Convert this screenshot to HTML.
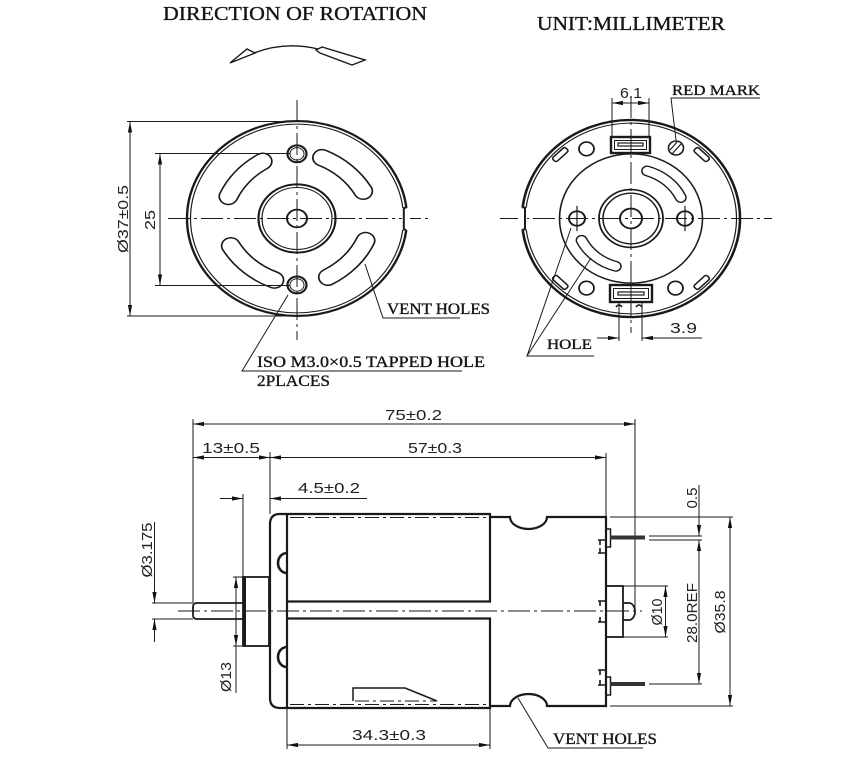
<!DOCTYPE html>
<html><head><meta charset="utf-8"><style>
html,body{margin:0;padding:0;background:#fff;}
svg{display:block;}
.s{font-family:"Liberation Serif",serif;fill:#151515;stroke:#151515;stroke-width:0.35;}
.d{font-family:"Liberation Sans",sans-serif;fill:#222;font-size:15px;}
.k{stroke:#1a1a1a;fill:none;}
</style></head><body>
<svg width="862" height="759" viewBox="0 0 862 759" xmlns="http://www.w3.org/2000/svg">
<defs>
<marker id="a" viewBox="0 0 11 6" refX="11" refY="3" markerWidth="11" markerHeight="6" markerUnits="userSpaceOnUse" orient="auto-start-reverse"><path d="M0,0.9 L11,3 L0,5.1z" fill="#111"/></marker>
</defs>
<rect width="862" height="759" fill="#fff"/>

<!-- Titles -->
<text class="s" x="163" y="20" font-size="20" textLength="264" lengthAdjust="spacingAndGlyphs">DIRECTION OF ROTATION</text>
<text class="s" x="537" y="30" font-size="20" textLength="188" lengthAdjust="spacingAndGlyphs">UNIT:MILLIMETER</text>

<!-- rotation arrow -->
<g class="k" stroke-width="1.4">
<path d="M230,63 L247,49 L255,53 Z"/>
<path d="M254,53 Q285,41 318,49"/>
<path d="M316,50 L322,47 L365,60 L352,65 L320,53 Z"/>
</g>

<!-- ============ LEFT VIEW ============ -->
<g class="k" stroke-width="1" stroke-dasharray="22 4 3 4">
<line x1="168" y1="218.5" x2="432" y2="218.5"/>
<line x1="297" y1="100" x2="297" y2="340"/>
</g>
<g transform="translate(297,218.5) scale(1,0.886)" class="k">
<circle r="110" stroke-width="2.4"/>
<circle r="106.5" stroke-width="1.2"/>
<rect x="105" y="-12" width="8" height="25" fill="#fff" stroke="none"/>
<path d="M109.3,-12 H106.8 V12.5 H109.3" stroke-width="2"/>
<circle cy="-73" r="9.5" stroke-width="2.2"/>
<circle cy="-73" r="7" stroke-width="1"/>
<circle cy="75" r="9.5" stroke-width="2.2"/>
<circle cy="75" r="7" stroke-width="1"/>
<circle r="38.5" stroke-width="2.2"/>
<circle r="35" stroke-width="1.2"/>
<circle r="10" stroke-width="2"/>
<g stroke-linecap="round">
<path d="M68.6,25 A90,90 0 0 1 30.9,66.2 M-22.6,69.4 A90,90 0 0 1 -66.2,30.9 M-68.6,-25 A90,90 0 0 1 -34.3,-64.5 M25,-68.6 A90,90 0 0 1 66.2,-30.9" stroke-width="20"/>
<path d="M68.6,25 A90,90 0 0 1 30.9,66.2 M-22.6,69.4 A90,90 0 0 1 -66.2,30.9 M-68.6,-25 A90,90 0 0 1 -34.3,-64.5 M25,-68.6 A90,90 0 0 1 66.2,-30.9" stroke="#fff" stroke-width="16.6"/>
</g>
</g>
<g class="k" stroke-width="1">
<line x1="127" y1="121.5" x2="300" y2="121.5"/>
<line x1="127" y1="316" x2="300" y2="316"/>
<line x1="130" y1="121.5" x2="130" y2="316" marker-start="url(#a)" marker-end="url(#a)"/>
<line x1="155" y1="153.5" x2="290" y2="153.5"/>
<line x1="155" y1="285.5" x2="290" y2="285.5"/>
<line x1="160" y1="153.5" x2="160" y2="285.5" marker-start="url(#a)" marker-end="url(#a)"/>
<polyline points="460,318 383,318 365,264"/>
<polyline points="462,371 242,371 288,295"/>
</g>
<text class="d" transform="translate(128,219) rotate(-90)" text-anchor="middle" textLength="68" lengthAdjust="spacingAndGlyphs">Ø37±0.5</text>
<text class="d" transform="translate(155,220) rotate(-90)" text-anchor="middle" textLength="20" lengthAdjust="spacingAndGlyphs">25</text>
<text class="s" x="387" y="314" font-size="16" textLength="103" lengthAdjust="spacingAndGlyphs">VENT HOLES</text>
<text class="s" x="257" y="367" font-size="16" textLength="228" lengthAdjust="spacingAndGlyphs">ISO M3.0×0.5 TAPPED HOLE</text>
<text class="s" x="257" y="386" font-size="16" textLength="73" lengthAdjust="spacingAndGlyphs">2PLACES</text>

<!-- ============ RIGHT VIEW ============ -->
<g class="k" stroke-width="1" stroke-dasharray="22 4 3 4">
<line x1="500" y1="218.5" x2="772" y2="218.5"/>
<line x1="631" y1="96" x2="631" y2="333"/>
</g>
<g transform="translate(631,218.5) scale(1,0.904)" class="k">
<circle r="109" stroke-width="2.6"/>
<circle r="105.5" stroke-width="1.2"/>
<rect x="-113" y="-12" width="9" height="24" fill="#fff" stroke="none"/>
<path d="M-108.5,-12 H-106 V12 H-108.5" stroke-width="2"/>
<g stroke-width="1.6">
<g transform="rotate(225) translate(100,0)"><rect x="-3" y="-9" width="6" height="18" rx="2" fill="#fff"/></g>
<g transform="rotate(135) translate(100,0)"><rect x="-3" y="-9" width="6" height="18" rx="2" fill="#fff"/></g>
<g transform="rotate(315) translate(100,0)"><rect x="-3" y="-9" width="6" height="18" rx="2" fill="#fff"/></g>
<g transform="rotate(45) translate(100,0)"><rect x="-3" y="-9" width="6" height="18" rx="2" fill="#fff"/></g>
</g>
<circle r="71.5" stroke-width="1.6"/>
<circle r="32" stroke-width="1.8"/>
<circle r="28" stroke-width="1.5"/>
<circle r="11" stroke-width="2"/>
<circle cx="-54" r="8" stroke-width="2"/>
<circle cx="54" r="8" stroke-width="2"/>
<line x1="-54" y1="-14" x2="-54" y2="14" stroke-width="1.2"/>
<line x1="54" y1="-14" x2="54" y2="14" stroke-width="1.2"/>
<circle cx="-44.5" cy="-77" r="7.5" stroke-width="1.8"/>
<circle cx="-44.5" cy="77" r="7.5" stroke-width="1.8"/>
<circle cx="44.5" cy="77" r="7.5" stroke-width="1.8"/>
<g stroke-linecap="round">
<path d="M16.1,-52.6 A55,55 0 0 1 49.8,-23.2 M-15.2,52.9 A55,55 0 0 1 -49.4,24.1" stroke-width="12"/>
<path d="M16.1,-52.6 A55,55 0 0 1 49.8,-23.2 M-15.2,52.9 A55,55 0 0 1 -49.4,24.1" stroke="#fff" stroke-width="9"/>
</g>
</g>
<!-- red mark -->
<g class="k" stroke-width="1.6">
<ellipse cx="676" cy="148" rx="7.5" ry="7"/>
<line x1="670" y1="150" x2="677" y2="142" stroke-width="1.2"/>
<line x1="672" y1="154" x2="681" y2="144" stroke-width="1.2"/>
</g>
<!-- terminals -->
<g class="k">
<rect x="611" y="137" width="39" height="16" stroke-width="2.4" fill="#fff"/>
<rect x="614.5" y="140.5" width="32" height="9" stroke-width="1"/>
<rect x="618" y="143" width="25" height="3" stroke-width="1.2"/>
<rect x="610" y="285" width="42" height="17" stroke-width="2.4" fill="#fff"/>
<rect x="613.5" y="288.5" width="35" height="10" stroke-width="1"/>
<rect x="618" y="292" width="26" height="3" stroke-width="1.2"/>
<path d="M616,307 Q619,303 622,307 M636,307 Q639,303 642,307" stroke-width="1.6"/>
<line x1="631" y1="137" x2="631" y2="153" stroke-width="1"/>
<line x1="631" y1="285" x2="631" y2="302" stroke-width="1"/>
</g>
<g class="k" stroke-width="1">
<line x1="612" y1="98" x2="612" y2="137"/>
<line x1="649" y1="98" x2="649" y2="137"/>
<line x1="612" y1="103" x2="649" y2="103" marker-start="url(#a)" marker-end="url(#a)"/>
<line x1="619" y1="303" x2="619" y2="341"/>
<line x1="642" y1="303" x2="642" y2="341"/>
<line x1="597" y1="338" x2="619" y2="338" marker-end="url(#a)"/>
<line x1="702" y1="338" x2="642" y2="338" marker-end="url(#a)"/>
<polyline points="760,98 671,98 676,140"/>
<polyline points="594,356 527,356 571,228"/>
<line x1="527" y1="356" x2="591" y2="258"/>
</g>
<text class="d" x="620" y="98" textLength="22" lengthAdjust="spacingAndGlyphs">6.1</text>
<text class="d" x="670" y="333" textLength="27" lengthAdjust="spacingAndGlyphs">3.9</text>
<text class="s" x="672" y="95" font-size="15" textLength="88" lengthAdjust="spacingAndGlyphs">RED MARK</text>
<text class="s" x="547" y="349" font-size="15" textLength="45" lengthAdjust="spacingAndGlyphs">HOLE</text>

<!-- ============ SIDE VIEW ============ -->
<g class="k" stroke-width="1" stroke-dasharray="22 4 3 4">
<line x1="178" y1="611" x2="642" y2="611"/>
</g>
<g class="k" stroke-width="1">
<line x1="193" y1="419" x2="193" y2="603"/>
<line x1="635" y1="419" x2="635" y2="611"/>
<line x1="270" y1="452" x2="270" y2="514"/>
<line x1="606" y1="453" x2="606" y2="517"/>
<line x1="243" y1="494" x2="243" y2="577"/>
<line x1="287" y1="708" x2="287" y2="749"/>
<line x1="490" y1="708" x2="490" y2="749"/>
<line x1="152" y1="603" x2="193" y2="603"/>
<line x1="152" y1="619" x2="193" y2="619"/>
<line x1="233" y1="577" x2="243" y2="577"/>
<line x1="233" y1="646" x2="243" y2="646"/>
<line x1="623" y1="586" x2="668" y2="586"/>
<line x1="623" y1="637" x2="668" y2="637"/>
<line x1="649" y1="536" x2="702" y2="536"/>
<line x1="649" y1="540" x2="702" y2="540"/>
<line x1="649" y1="684" x2="702" y2="684"/>
<line x1="610" y1="517" x2="733" y2="517"/>
<line x1="610" y1="706" x2="733" y2="706"/>
<line x1="193" y1="424" x2="635" y2="424" marker-start="url(#a)" marker-end="url(#a)"/>
<line x1="193" y1="457.5" x2="270" y2="457.5" marker-start="url(#a)" marker-end="url(#a)"/>
<line x1="270" y1="457.5" x2="606" y2="457.5" marker-start="url(#a)" marker-end="url(#a)"/>
<line x1="220" y1="498.5" x2="243" y2="498.5" marker-end="url(#a)"/>
<line x1="367" y1="498.5" x2="270" y2="498.5" marker-end="url(#a)"/>
<line x1="287" y1="745" x2="490" y2="745" marker-start="url(#a)" marker-end="url(#a)"/>
<line x1="154.5" y1="522" x2="154.5" y2="603" marker-end="url(#a)"/>
<line x1="154.5" y1="642" x2="154.5" y2="619" marker-end="url(#a)"/>
<line x1="236" y1="577" x2="236" y2="646" marker-start="url(#a)" marker-end="url(#a)"/>
<line x1="236" y1="646" x2="236" y2="693"/>
<line x1="665.5" y1="586" x2="665.5" y2="637" marker-start="url(#a)" marker-end="url(#a)"/>
<line x1="699" y1="540" x2="699" y2="684" marker-start="url(#a)" marker-end="url(#a)"/>
<line x1="699" y1="485" x2="699" y2="536" marker-end="url(#a)"/>
<line x1="730" y1="517" x2="730" y2="706" marker-start="url(#a)" marker-end="url(#a)"/>
<polyline points="643,748 548,748 518,698"/>
</g>
<g class="k" stroke-width="2.2">
<path d="M287,514 H280 Q270,514 270,524 V698 Q270,708 280,708 H287"/>
<line x1="287" y1="513" x2="287" y2="709"/>
<path d="M287,514 H490 V601.5 H287"/>
<path d="M287,618.5 H490 V708 H287"/>
<path d="M490,517 H510 A18.5,12 0 0 0 547,517 H606 V706 H547 A18.5,12 0 0 0 510,706 H490"/>
<path d="M287,553 A9,10 0 0 0 287,573" stroke-width="2.6"/>
<path d="M287,647 A9,10 0 0 0 287,667" stroke-width="2.6"/>
<path d="M405,688 H353 V701" stroke-width="1.5"/>
<line x1="405" y1="688" x2="437" y2="701" stroke-width="1.5"/>
<path d="M243,603 H197 Q193,603 193,607 V615 Q193,619 197,619 H243" stroke-width="1.8"/>
<rect x="243" y="577" width="26" height="69" stroke-width="1.8"/>
<line x1="244.5" y1="577" x2="244.5" y2="646" stroke-width="3"/>
<rect x="606" y="586" width="17" height="51" stroke-width="1.8"/>
<path d="M623,603 H629 A6,8.5 0 0 1 629,620 H623" stroke-width="1.8"/>
<rect x="606" y="529" width="4.5" height="18" stroke-width="1.5"/>
<rect x="606" y="677" width="4.5" height="18" stroke-width="1.5"/>
<path d="M598,540 H606 M600,540 V545 M598,553 H606 M600,553 V548" stroke-width="1.6"/>
<path d="M598,601 H606 M600,601 V606 M598,622 H606 M600,622 V617" stroke-width="1.6"/>
<path d="M598,670 H606 M600,670 V675 M598,685 H606 M600,685 V680" stroke-width="1.6"/>
</g>
<g class="k" stroke-width="1" stroke-dasharray="14 4 3 4">
<line x1="290" y1="517.5" x2="488" y2="517.5"/>
<line x1="290" y1="704.5" x2="488" y2="704.5"/>
<line x1="355" y1="701" x2="437" y2="701"/>
</g>
<rect x="610" y="535.5" width="35" height="4" fill="#333"/>
<rect x="610" y="682" width="35" height="4" fill="#333"/>

<text class="d" x="385" y="420" textLength="57" lengthAdjust="spacingAndGlyphs">75±0.2</text>
<text class="d" x="202" y="453" textLength="58" lengthAdjust="spacingAndGlyphs">13±0.5</text>
<text class="d" x="408" y="453" textLength="54" lengthAdjust="spacingAndGlyphs">57±0.3</text>
<text class="d" x="298" y="493" textLength="62" lengthAdjust="spacingAndGlyphs">4.5±0.2</text>
<text class="d" x="352" y="740" textLength="74" lengthAdjust="spacingAndGlyphs">34.3±0.3</text>
<text class="d" transform="translate(152,550) rotate(-90)" text-anchor="middle" textLength="55" lengthAdjust="spacingAndGlyphs">Ø3.175</text>
<text class="d" transform="translate(231,677) rotate(-90)" text-anchor="middle" textLength="30" lengthAdjust="spacingAndGlyphs">Ø13</text>
<text class="d" transform="translate(662,612) rotate(-90)" text-anchor="middle" textLength="27" lengthAdjust="spacingAndGlyphs">Ø10</text>
<text class="d" transform="translate(697,613) rotate(-90)" text-anchor="middle" textLength="60" lengthAdjust="spacingAndGlyphs">28.0REF</text>
<text class="d" transform="translate(725,612) rotate(-90)" text-anchor="middle" textLength="43" lengthAdjust="spacingAndGlyphs">Ø35.8</text>
<text class="d" transform="translate(697,498) rotate(-90)" text-anchor="middle" textLength="21" lengthAdjust="spacingAndGlyphs">0.5</text>
<text class="s" x="553" y="744" font-size="16" textLength="104" lengthAdjust="spacingAndGlyphs">VENT HOLES</text>
</svg>
</body></html>
